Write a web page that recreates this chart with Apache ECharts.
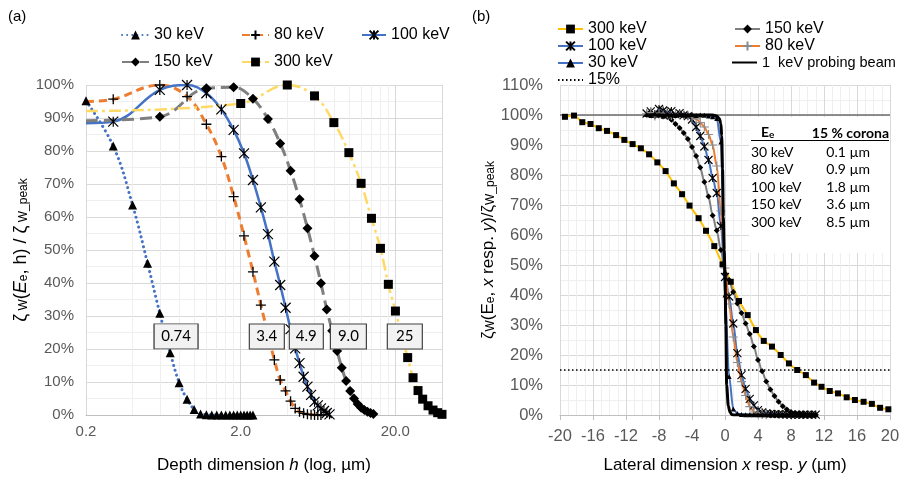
<!DOCTYPE html>
<html>
<head>
<meta charset="utf-8">
<script src="https://cdn.jsdelivr.net/npm/echarts@6.0.0/dist/echarts.min.js"></script>
<style>
  html, body { margin: 0; padding: 0; background: #fff; }
  #chart { width: 900px; height: 482px; }
</style>
</head>
<body>
<div id="chart"></div>
<script>
// ---- (a) depth profiles, h in µm, zeta in % of peak ----
var depth30 = [0.2, 0.3, 0.4, 0.5, 0.6, 0.7, 0.8, 0.9, 1.0, 1.1, 1.2, 1.3, 1.4, 1.5, 1.6, 1.7, 1.8, 1.9, 2.0, 2.1, 2.2, 2.3, 2.4];
var zeta30 = [95.2, 81.5, 63.6, 46.0, 30.8, 18.9, 9.8, 4.8, 1.7, 0.3, 0.1, 0, 0, 0, 0, 0, 0, 0, 0, 0, 0, 0, 0];

var depth80 = [0.2, 0.3, 0.6, 0.9, 1.2, 1.5, 1.8, 2.1, 2.4, 2.7, 3.0, 3.3, 3.6, 3.9, 4.2, 4.5, 4.8, 5.1, 5.4, 5.7, 6.0, 6.3, 6.6];
var zeta80 = [95.0, 95.7, 100, 96.5, 88.1, 78.3, 66.2, 54.3, 43.4, 33.3, 24.5, 16.7, 10.6, 7.3, 4.2, 2.0, 1.0, 0.5, 0.2, 0.1, 0, 0, 0];

var depth100 = [0.2, 0.3, 0.6, 0.9, 1.2, 1.5, 1.8, 2.1, 2.4, 2.7, 3.0, 3.3, 3.6, 3.9, 4.2, 4.5, 4.8, 5.1, 5.4, 5.7, 6.0, 6.3, 6.6, 6.9, 7.2, 7.5];
var zeta100 = [88.4, 88.9, 98.5, 100, 97.5, 92.6, 86.4, 79.3, 71.2, 62.9, 54.8, 46.5, 39.4, 32.5, 26.0, 20.2, 15.7, 11.6, 8.6, 6.1, 4.0, 2.9, 2.0, 1.2, 0.6, 0.2];

var depth150 = [0.2, 0.6, 1.2, 1.8, 2.4, 3.0, 3.6, 4.2, 4.8, 5.4, 6.0, 6.6, 7.2, 7.8, 8.4, 9.0, 9.6, 10.2, 10.8, 11.4, 12.0, 12.6, 13.2, 13.8, 14.4];
var zeta150 = [89.2, 90.4, 99.0, 99.3, 95.8, 89.7, 82.3, 74.0, 65.4, 56.6, 48.2, 39.9, 32.0, 25.5, 19.4, 14.3, 10.3, 7.3, 5.0, 3.3, 2.2, 1.5, 1.0, 0.6, 0.3];

var depth300 = [0.2, 2, 4, 6, 8, 10, 12, 14, 16, 18, 20, 22, 24, 26, 28, 30, 32.5, 35, 37.5, 40];
var zeta300 = [92.1, 94.4, 100, 96.7, 88.6, 79.5, 70.2, 59.6, 50.5, 39.6, 31.5, 24.0, 17.4, 11.3, 7.4, 4.8, 2.8, 1.5, 0.7, 0.2];

// depth where each profile falls to 15 %
var depth15Labels = ['0.74', '3.4', '4.9', '9.0', '25'];
var depthMinor = [0.4, 0.6, 0.8, 1.0, 1.2, 1.4, 1.6, 1.8, 4, 6, 8, 10, 12, 14, 16, 18];

// ---- (b) lateral profiles, x in µm ----
var latX = [-9.5, -9, -8.5, -8, -7.5, -7, -6.5, -6, -5.5, -5, -4.5, -4, -3.5, -3, -2.5, -2, -1.5, -1, -0.5, 0,
            0.5, 1, 1.5, 2, 2.5, 3, 3.5, 4, 4.5, 5, 5.5, 6, 6.5, 7, 7.5, 8, 8.5, 9, 9.5, 10, 10.5, 11];
var lat150 = [100, 100.6, 99.6, 100.8, 99.7, 99.3, 98.4, 97.0, 95.7, 94.0, 92.0, 89.3, 86.3, 82.5, 77.7, 72.8, 66.5, 61.5, 55.0, 47.2,
              45.0, 41.0, 37.2, 34.0, 30.5, 27.0, 22.8, 18.3, 14.6, 11.2, 8.5, 6.3, 4.4, 2.9, 1.8, 1.0, 0.6, 0.4, 0.3, 0.2, 0.2, 0.1];
var lat100 = [100.5, 101.2, 100.3, 102.0, 101.5, 100.8, 101.3, 100.2, 100.6, 100.0, 99.6, 98.5, 96.0, 93.0, 89.5, 85.0, 79.0, 74.0, 63.0, 46.0,
              39.5, 30.5, 20.6, 13.3, 8.7, 5.4, 3.2, 1.6, 0.9, 0.5, 0.4, 0.3, 0.3, 0.2, 0.2, 0.1, 0.1, 0.1, 0.1, 0.1, 0.1, 0.1];
var lat30 = [100.2, 99.8, 100.5, 100.0, 99.6, 100.3, 100.0, 99.8, 100.2, 99.9, 100.0, 100.2, 99.8, 100.0, 99.9, 99.7, 99.4, 98.8, 91.0, 40.0,
             12.8, 2.0, 0.5, 0.2, 0.1, 0.1, 0.1, 0.1, 0.1, 0.1, 0.1, 0.1, 0.1, 0.1, 0.1, 0.1, 0.1, 0.1, 0.1, 0.1, 0.1, 0.1];

var latX80 = [-9.5, -9, -8.5, -8, -7.5, -7, -6.5, -6, -5.5, -5, -4.5, -4, -3.5, -3, -2.5, -2, -1.5, -1, -0.5, 0,
              0.5, 1, 1.5, 2, 2.5, 3, 3.5, 4, 4.5, 5];
var lat80 = [100.4, 100.8, 99.7, 100.6, 100.0, 100.3, 99.8, 100.2, 100.0, 100.0, 99.8, 99.4, 98.7, 97.5, 96.0, 93.5, 90.0, 83.0, 68.0, 49.0,
             37.0, 26.0, 17.5, 11.1, 6.5, 2.8, 1.0, 0.4, 0.2, 0.1];

var latX300 = [-19.4, -18.3, -17.3, -16.3, -15.3, -14.3, -13.2, -12.2, -11.2, -10.2, -9.2, -8.2, -7.2, -6.2, -5.2, -4.3, -3.2, -2.3, -1.3, -0.3,
               0.7, 1.7, 2.75, 3.75, 4.7, 5.7, 6.75, 7.75, 8.75, 9.8, 10.8, 11.7, 12.7, 13.7, 14.75, 15.75, 16.8, 17.8, 18.8, 19.8];
var lat300 = [99.4, 99.8, 97.6, 97.0, 95.6, 94.7, 93.3, 91.7, 90.3, 88.9, 86.9, 84.2, 81.3, 77.2, 73.6, 69.8, 65.6, 61.4, 56.3, 50.2,
              44.4, 38.0, 33.3, 28.3, 24.7, 22.8, 20.0, 17.2, 15.0, 13.3, 10.8, 9.4, 8.0, 7.2, 5.9, 5.0, 4.4, 3.7, 2.4, 1.9];

var latX1 = [-9.5, -8, -6, -4, -2, -1.5, -1, -0.7, -0.5, -0.4, -0.3, -0.2, -0.1, 0, 0.1, 0.2, 0.4, 0.6, 0.8, 1, 2, 4, 6, 8, 10, 11];
var lat1 = [100, 100, 100, 100, 100, 100, 99.7, 98.8, 97.2, 93, 82, 66, 55, 47, 30, 10, 3, 1, 0.2, 0, 0, 0, 0, 0, 0, 0];

var coronaX = [-20, 20];
var corona15 = [15, 15];
var peakLine = [100, 100];

var coronaTable = [
  ['30 keV', '0.1 µm'],
  ['80 keV', '0.9 µm'],
  ['100 keV', '1.8 µm'],
  ['150 keV', '3.6 µm'],
  ['300 keV', '8.5 µm']
];

var sans = 'Liberation Sans, Arial, sans-serif';
var calib = 'Lato, Open Sans, sans-serif';
var plusPath = 'path://M0,5L10,5M5,0L5,10';
var starPath = 'path://M0,0L10,10M10,0L0,10M5,0L5,10';

function pairs(xs, ys, hideFirst) {
  return xs.map(function (x, i) {
    var item = { value: [x, ys[i]] };
    if (hideFirst && i === 0) item.symbol = 'none';
    return item;
  });
}

// boxed depth label (a)
function box(text, h, w) {
  return {
    z: 6,
    symbol: 'rect',
    symbolSize: [w, 25],
    itemStyle: { color: '#f2f2f2', borderColor: '#404040', borderWidth: 1 },
    label: { show: true, position: 'inside', color: '#000', fontSize: 15, fontFamily: calib, formatter: text },
    data: [{ coord: [h, 23.8] }]
  };
}

// one legend entry; series of panel (b) carry a " (b)" suffix that is not shown
function leg(name, left, top, w, extra) {
  var l = {
    data: [name], left: left, top: top, padding: 0, itemWidth: w, itemHeight: 11, itemGap: 0,
    textStyle: { fontSize: 16, fontFamily: sans, color: '#000' }, selectedMode: false,
    formatter: function (n) { return n.replace(' (b)', ''); }
  };
  if (extra) Object.keys(extra).forEach(function (k) { l[k] = extra[k]; });
  return l;
}

var gridLine = { show: true, lineStyle: { color: '#d9d9d9', width: 1 } };
var minorLine = { show: true, lineStyle: { color: '#efefef', width: 1 } };

var graphics = [
  { type: 'text', left: 8, top: 9, style: { text: '(a)', fontSize: 15, fontFamily: sans, fill: '#000' } },
  { type: 'text', left: 472, top: 9, style: { text: '(b)', fontSize: 15, fontFamily: sans, fill: '#000' } },
  { type: 'rect', left: 749, top: 117, z: 10, shape: { width: 141, height: 136 }, style: { fill: '#fff' } },
  { type: 'text', left: 761, top: 125, z: 11, style: { text: '{h|E}{hs|e}', rich: {
      h: { fontSize: 14, fontWeight: 'bold', fontFamily: calib, fill: '#000', lineHeight: 16, verticalAlign: 'middle' },
      hs: { fontSize: 10, fontWeight: 'bold', fontFamily: calib, fill: '#000', lineHeight: 10, verticalAlign: 'bottom' } } } },
  { type: 'text', right: 11, top: 126, z: 11, style: { text: '15 % corona', fontSize: 14, fontWeight: 'bold', fontFamily: calib, fill: '#000' } },
  { type: 'line', z: 11, shape: { x1: 751, y1: 140.5, x2: 889, y2: 140.5 }, style: { stroke: '#000', lineWidth: 1 } }
];
coronaTable.forEach(function (row, i) {
  graphics.push({ type: 'text', left: 751, top: 145 + i * 17.5, z: 11, style: { text: row[0], fontSize: 14, fontFamily: calib, fill: '#000' } });
  graphics.push({ type: 'text', right: 30, top: 145 + i * 17.5, z: 11, style: { text: row[1], fontSize: 14, fontFamily: calib, fill: '#000' } });
});

var option = {
  backgroundColor: '#fff',
  animation: false,
  grid: [
    { left: 86, top: 85, width: 356, height: 330, outerBoundsMode: 'none' },
    { left: 560, top: 85, width: 330, height: 330, outerBoundsMode: 'none' }
  ],
  legend: [
    leg('30 keV', 121, 27, 27), leg('80 keV', 241, 27, 27), leg('100 keV', 361, 27, 24),
    leg('150 keV', 121, 54, 27), leg('300 keV', 241, 54, 27),
    leg('300 keV (b)', 557, 21, 25), leg('150 keV (b)', 734, 21, 25),
    leg('100 keV (b)', 557, 38, 25), leg('80 keV (b)', 734, 38, 25),
    leg('30 keV (b)', 557, 55, 25),
    leg('1  keV probing beam', 731, 55, 25, { itemStyle: { opacity: 0 },
      textStyle: { fontSize: 14.5, fontFamily: sans, color: '#000' } }),
    leg('15%', 557, 72, 25, { itemStyle: { opacity: 0 } })
  ],
  xAxis: [
    {
      type: 'log', logBase: 10, gridIndex: 0, min: 0.2, max: 40, interval: 1,
      name: '{n|Depth dimension }{i|h}{n| (log, µm)}', nameLocation: 'middle', nameGap: 42,
      nameTextStyle: { rich: {
        n: { fontSize: 17, fontFamily: sans, color: '#000' },
        i: { fontSize: 17, fontFamily: sans, color: '#000', fontStyle: 'italic' } } },
      axisLine: { show: true, lineStyle: { color: '#bfbfbf' } },
      axisTick: { show: false },
      axisLabel: { fontSize: 15, fontFamily: sans, color: '#595959', margin: 9, showMaxLabel: false,
        formatter: function (v) { return Number(v).toFixed(1); } },
      splitLine: gridLine
    },
    {
      type: 'value', gridIndex: 1, min: -20, max: 20, interval: 4,
      name: '{n|Lateral dimension }{i|x}{n| resp. }{i|y}{n| (µm)}', nameLocation: 'middle', nameGap: 42,
      nameTextStyle: { rich: {
        n: { fontSize: 17, fontFamily: sans, color: '#000' },
        i: { fontSize: 17, fontFamily: sans, color: '#000', fontStyle: 'italic' } } },
      axisLine: { show: true, lineStyle: { color: '#bfbfbf' } },
      axisTick: { show: true, length: 5, lineStyle: { color: '#bfbfbf' } },
      axisLabel: { fontSize: 16.5, fontFamily: sans, color: '#595959', margin: 13 },
      splitLine: gridLine,
      minorTick: { show: false, splitNumber: 4 },
      minorSplitLine: minorLine
    }
  ],
  yAxis: [
    {
      type: 'value', gridIndex: 0, min: 0, max: 100, interval: 10,
      name: '{g|ζ}{s| W}{g|(}{gi|E}{s|e}{g|, h) / ζ}{s| W_peak}',
      nameLocation: 'middle', nameRotate: 90, nameGap: 56,
      nameTextStyle: { rich: {
        g: { fontSize: 18, fontFamily: sans, color: '#000', lineHeight: 18, verticalAlign: 'middle' },
        gi: { fontSize: 18, fontFamily: sans, color: '#000', fontStyle: 'italic', lineHeight: 18, verticalAlign: 'middle' },
        s: { fontSize: 12, fontFamily: sans, color: '#000', lineHeight: 12, verticalAlign: 'bottom' } } },
      axisLine: { show: false }, axisTick: { show: false },
      axisLabel: { fontSize: 15, fontFamily: sans, color: '#595959', margin: 12, formatter: '{value}%' },
      splitLine: gridLine,
      minorTick: { show: false, splitNumber: 2 },
      minorSplitLine: minorLine
    },
    {
      type: 'value', gridIndex: 1, min: 0, max: 110, interval: 10,
      name: '{g|ζ}{s|W}{g|(E}{s|e}{g|, }{gi|x}{g| resp. }{gi|y}{g|)/ζ}{s|W_peak}',
      nameLocation: 'middle', nameRotate: 90, nameGap: 62,
      nameTextStyle: { rich: {
        g: { fontSize: 17, fontFamily: sans, color: '#000', lineHeight: 17, verticalAlign: 'middle' },
        gi: { fontSize: 17, fontFamily: sans, color: '#000', fontStyle: 'italic', lineHeight: 17, verticalAlign: 'middle' },
        s: { fontSize: 12, fontFamily: sans, color: '#000', lineHeight: 12, verticalAlign: 'bottom' } } },
      axisLine: { show: false }, axisTick: { show: false },
      axisLabel: { fontSize: 16.5, fontFamily: sans, color: '#595959', margin: 17, formatter: '{value}%' },
      splitLine: gridLine,
      minorTick: { show: false, splitNumber: 2 },
      minorSplitLine: minorLine
    }
  ],
  series: [
    // ---- (a) ----
    {
      name: '30 keV', type: 'line', xAxisIndex: 0, yAxisIndex: 0, z: 2,
      data: pairs(depth30, zeta30, false), smooth: 0.4,
      symbol: 'triangle', symbolSize: 9, itemStyle: { color: '#000' },
      lineStyle: { color: '#4472C4', width: 3, type: [0.1, 5], cap: 'round' },
      markLine: {
        z: 1, silent: true, symbol: 'none', label: { show: false },
        lineStyle: { color: '#efefef', width: 1, type: 'solid' },
        data: depthMinor.map(function (v) { return { xAxis: v }; })
      },
      markPoint: box(depth15Labels[0], 0.764, 44)
    },
    {
      name: '80 keV', type: 'line', xAxisIndex: 0, yAxisIndex: 0, z: 2,
      data: pairs(depth80, zeta80, true), smooth: 0.4,
      symbol: plusPath, symbolSize: 10,
      itemStyle: { color: '#000', borderColor: '#000', borderWidth: 1.3 },
      lineStyle: { color: '#ED7D31', width: 3, type: [8, 5] },
      markPoint: box(depth15Labels[1], 2.95, 35)
    },
    {
      name: '100 keV', type: 'line', xAxisIndex: 0, yAxisIndex: 0, z: 2,
      data: pairs(depth100, zeta100, true), smooth: 0.4,
      symbol: starPath, symbolSize: 10,
      itemStyle: { color: '#000', borderColor: '#000', borderWidth: 1.2 },
      lineStyle: { color: '#4472C4', width: 2.5 },
      markPoint: box(depth15Labels[2], 5.31, 34)
    },
    {
      name: '150 keV', type: 'line', xAxisIndex: 0, yAxisIndex: 0, z: 2,
      data: pairs(depth150, zeta150, true), smooth: 0.4,
      symbol: 'diamond', symbolSize: 10, itemStyle: { color: '#000' },
      lineStyle: { color: '#7f7f7f', width: 3, type: [12, 6] },
      markPoint: box(depth15Labels[3], 9.93, 36)
    },
    {
      name: '300 keV', type: 'line', xAxisIndex: 0, yAxisIndex: 0, z: 2,
      data: pairs(depth300, zeta300, true), smooth: 0.4,
      symbol: 'rect', symbolSize: 9, itemStyle: { color: '#000' },
      lineStyle: { color: '#FFD966', width: 2.5, type: [12, 4, 3, 4] },
      markPoint: box(depth15Labels[4], 23.0, 35)
    },
    // ---- (b) ----
    {
      name: 'peak', type: 'line', xAxisIndex: 1, yAxisIndex: 1, z: 2,
      data: pairs(coronaX, peakLine, false), symbol: 'none',
      lineStyle: { color: '#6b6b6b', width: 1.5 }
    },
    {
      name: '300 keV (b)', type: 'line', xAxisIndex: 1, yAxisIndex: 1, z: 2,
      data: pairs(latX300, lat300, false), smooth: 0.3,
      symbol: 'rect', symbolSize: 6, itemStyle: { color: '#000' },
      lineStyle: { color: '#FFC000', width: 2 }
    },
    {
      name: '150 keV (b)', type: 'line', xAxisIndex: 1, yAxisIndex: 1, z: 2,
      data: pairs(latX, lat150, false), smooth: 0.3, smoothMonotone: 'x',
      symbol: 'diamond', symbolSize: 6, itemStyle: { color: '#000' },
      lineStyle: { color: '#7f7f7f', width: 2 }
    },
    {
      name: '100 keV (b)', type: 'line', xAxisIndex: 1, yAxisIndex: 1, z: 2,
      data: pairs(latX, lat100, false), smooth: 0.3, smoothMonotone: 'x',
      symbol: starPath, symbolSize: 8,
      itemStyle: { color: '#000', borderColor: '#000', borderWidth: 1.1 },
      lineStyle: { color: '#4472C4', width: 2 }
    },
    {
      name: '80 keV (b)', type: 'line', xAxisIndex: 1, yAxisIndex: 1, z: 2,
      data: pairs(latX80, lat80, false), smooth: 0.3, smoothMonotone: 'x',
      symbol: plusPath, symbolSize: 9,
      itemStyle: { color: '#8c8c8c', borderColor: '#8c8c8c', borderWidth: 1.2 },
      lineStyle: { color: '#ED7D31', width: 2 }
    },
    {
      name: '30 keV (b)', type: 'line', xAxisIndex: 1, yAxisIndex: 1, z: 2,
      data: pairs(latX, lat30, false), smooth: 0.3, smoothMonotone: 'x',
      symbol: 'triangle', symbolSize: 5, itemStyle: { color: '#000' },
      lineStyle: { color: '#4472C4', width: 2 }
    },
    {
      name: '1  keV probing beam', type: 'line', xAxisIndex: 1, yAxisIndex: 1, z: 3,
      data: pairs(latX1, lat1, false), smooth: 0.3, smoothMonotone: 'x',
      symbol: 'none', itemStyle: { color: '#000' },
      lineStyle: { color: '#000', width: 3 }
    },
    {
      name: '15%', type: 'line', xAxisIndex: 1, yAxisIndex: 1, z: 3,
      data: pairs(coronaX, corona15, false), symbol: 'none', itemStyle: { color: '#000' },
      lineStyle: { color: '#000', width: 1.5, type: [1.5, 2.5] }
    }
  ],
  graphic: graphics
};

var chart = echarts.init(document.getElementById('chart'), null, { renderer: 'canvas' });
chart.setOption(option);
</script>
</body>
</html>
